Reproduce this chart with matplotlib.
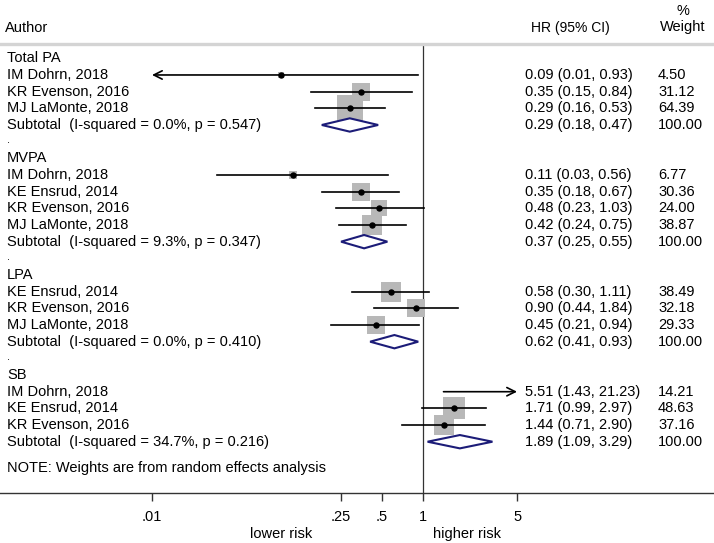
import numpy as np
import matplotlib.pyplot as plt
from matplotlib.patches import Polygon

plt.rcParams['font.family'] = ['Liberation Sans', 'DejaVu Sans']

# data
groups = ['Total PA', 'MVPA', 'LPA', 'SB']
authors = [
    ['IM Dohrn, 2018', 'KR Evenson, 2016', 'MJ LaMonte, 2018'],
    ['IM Dohrn, 2018', 'KE Ensrud, 2014', 'KR Evenson, 2016', 'MJ LaMonte, 2018'],
    ['KE Ensrud, 2014', 'KR Evenson, 2016', 'MJ LaMonte, 2018'],
    ['IM Dohrn, 2018', 'KE Ensrud, 2014', 'KR Evenson, 2016'],
]
hr = [[0.09, 0.35, 0.29], [0.11, 0.35, 0.48, 0.42], [0.58, 0.90, 0.45], [5.51, 1.71, 1.44]]
lo = [[0.01, 0.15, 0.16], [0.03, 0.18, 0.23, 0.24], [0.30, 0.44, 0.21], [1.43, 0.99, 0.71]]
hi = [[0.93, 0.84, 0.53], [0.56, 0.67, 1.03, 0.75], [1.11, 1.84, 0.94], [21.23, 2.97, 2.90]]
weight = [[4.50, 31.12, 64.39], [6.77, 30.36, 24.00, 38.87], [38.49, 32.18, 29.33], [14.21, 48.63, 37.16]]

sub_hr = [0.29, 0.37, 0.62, 1.89]
sub_lo = [0.18, 0.25, 0.41, 1.09]
sub_hi = [0.47, 0.55, 0.93, 3.29]
i2 = ['0.0%', '9.3%', '0.0%', '34.7%']
pval = ['0.547', '0.347', '0.410', '0.216']

xticks = [0.01, 0.25, 0.5, 1, 5]
xticklabels = ['.01', '.25', '.5', '1', '5']

W, H = 714, 543
fig = plt.figure(figsize=(W / 100, H / 100), dpi=100)
ax = fig.add_axes([0, 50 / H, 1, 493 / H])

# pixel geometry: 1 at x=422.5, 135.25 px per decade; row 0 at y=58.3, 16.67 px per row
ppd = 135.25
x1 = 422.5
ax.set_xscale('log')
ax.set_xlim(10 ** (-x1 / ppd), 10 ** ((W - x1) / ppd))
row0, drow = 58.3, 16.67
ax.set_ylim((493 - row0) / drow, -row0 / drow)

def prow(py):
    return (py - row0) / drow

fs = 10.5
tr = ax.get_yaxis_transform()
xmin, xmax = xticks[0], xticks[-1]
navy = '#1c1c78'

row = 0
for g in range(len(groups)):
    ax.text(7 / W, row, groups[g], transform=tr, fontsize=fs, va='center', ha='left')
    row += 1
    for k in range(len(authors[g])):
        ax.text(7 / W, row, authors[g][k], transform=tr, fontsize=fs, va='center', ha='left')
        ax.text(525 / W, row, f'{hr[g][k]:.2f} ({lo[g][k]:.2f}, {hi[g][k]:.2f})',
                transform=tr, fontsize=fs, va='center', ha='left')
        ax.text(658 / W, row, f'{weight[g][k]:.2f}', transform=tr, fontsize=fs,
                va='center', ha='left')
        inside = xmin <= hr[g][k] <= xmax
        if inside:
            ax.scatter(hr[g][k], row, marker='s', s=5.6 * weight[g][k], color='#b8b8b8',
                       linewidths=0, zorder=2)
        a, b = max(lo[g][k], xmin), min(hi[g][k], xmax)
        if lo[g][k] <= xmin:
            ax.annotate('', xy=(a, row), xytext=(b, row),
                        arrowprops=dict(arrowstyle='->', lw=1.2, color='black',
                                        mutation_scale=15, shrinkA=0, shrinkB=0), zorder=3)
        elif hi[g][k] >= xmax:
            ax.annotate('', xy=(b, row), xytext=(a, row),
                        arrowprops=dict(arrowstyle='->', lw=1.2, color='black',
                                        mutation_scale=15, shrinkA=0, shrinkB=0), zorder=3)
        else:
            ax.plot([a, b], [row, row], color='black', lw=1.2, zorder=3)
        if inside:
            ax.plot(hr[g][k], row, 'o', color='black', ms=3.6, zorder=4)
        row += 1
    ax.text(7 / W, row, f'Subtotal  (I-squared = {i2[g]}, p = {pval[g]})', transform=tr,
            fontsize=fs, va='center', ha='left')
    ax.text(525 / W, row, f'{sub_hr[g]:.2f} ({sub_lo[g]:.2f}, {sub_hi[g]:.2f})',
            transform=tr, fontsize=fs, va='center', ha='left')
    ax.text(658 / W, row, '100.00', transform=tr, fontsize=fs, va='center', ha='left')
    dh = 0.4
    diamond = Polygon([[sub_lo[g], row], [sub_hr[g], row - dh], [sub_hi[g], row],
                       [sub_hr[g], row + dh]], closed=True, facecolor='white',
                      edgecolor=navy, lw=1.5, zorder=3)
    ax.add_patch(diamond)
    row += 1
    if g < len(groups) - 1:
        ax.text(7 / W, row - 0.1, '.', transform=tr, fontsize=8, va='center', ha='left')
        row += 1

ax.text(7 / W, prow(468), 'NOTE: Weights are from random effects analysis', transform=tr,
        fontsize=fs, va='center', ha='left')

# header
ax.text(5 / W, prow(28), 'Author', transform=tr, fontsize=fs, va='center', ha='left')
ax.text(570 / W, prow(28), 'HR (95% CI)', transform=tr, fontsize=fs - 0.5, va='center',
        ha='center')
ax.text(683 / W, prow(11), '%', transform=tr, fontsize=fs, va='center', ha='center')
ax.text(683 / W, prow(27), 'Weight', transform=tr, fontsize=fs, va='center', ha='center')
ax.plot([0, 1], [prow(43.5), prow(43.5)], transform=tr, color='#d4d4d4', lw=2.4,
        clip_on=False)

# reference line at 1
ax.plot([1, 1], [prow(43.5), prow(493)], color='#333333', lw=0.9, zorder=1)

# x axis
for s in ['top', 'left', 'right']:
    ax.spines[s].set_visible(False)
ax.spines['bottom'].set_color('#333333')
ax.spines['bottom'].set_linewidth(1.0)
ax.set_yticks([])
ax.set_xticks(xticks)
ax.set_xticklabels(xticklabels)
ax.minorticks_off()
ax.tick_params(axis='x', length=6, width=1.0, color='#333333', pad=6, labelsize=fs)
ax.text(10 ** ((281 - x1) / ppd), prow(534), 'lower risk', fontsize=fs, va='center',
        ha='center')
ax.text(10 ** ((467 - x1) / ppd), prow(534), 'higher risk', fontsize=fs, va='center',
        ha='center')

fig.savefig('out.png', dpi=100)
